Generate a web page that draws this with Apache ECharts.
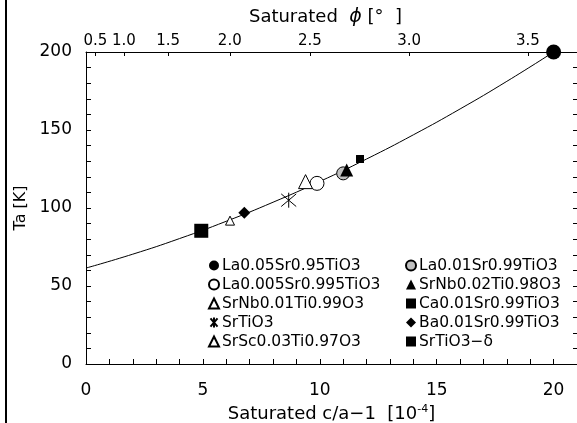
<!DOCTYPE html>
<html>
<head>
<meta charset="utf-8">
<script src="https://cdn.jsdelivr.net/npm/echarts@6/dist/echarts.min.js"></script>
<style>html,body{margin:0;padding:0;background:#fff}#c{width:577px;height:423px}</style>
</head>
<body>
<div id="c"></div>
<script>
// ---- data ----
const names = ['La0.05Sr0.95TiO3','La0.01Sr0.99TiO3','La0.005Sr0.995TiO3','SrNb0.02Ti0.98O3',
  'SrNb0.01Ti0.99O3','Ca0.01Sr0.99TiO3','SrTiO3','Ba0.01Sr0.99TiO3','SrSc0.03Ti0.97O3','SrTiO3−δ'];
const caValues = [20.0, 11.0, 9.88, 11.15, 9.39, 11.72, 8.67, 6.77, 6.16, 4.93];
const taValues = [200, 122.2, 115.8, 124.4, 116.9, 131.4, 105, 97, 91.9, 85.4];
const curveX = [0, 2, 4, 6, 8, 10, 12, 14, 16, 18, 20];
const curveY = [61.5, 70.4, 80.4, 91.5, 103.7, 117, 131.4, 146.9, 163.5, 181.2, 200];
const phiLabels = ['0.5','1.0','1.5','2.0','2.5','3.0','3.5'];
const phiPos = [0.40, 1.62, 3.51, 6.15, 9.58, 13.82, 18.9];
const xLabelValues = [0, 5, 10, 15, 20];
const xTickValues = [0,1,2,3,4,5,6,7,8,9,10,11,12,13,14,15,16,17,18,19,20,21];
const yTickValues = [0,10,20,30,40,50,60,70,80,90,100,110,120,130,140,150,160,170,180,190,200];

// ---- styles ----
const FONT = 'DejaVu Sans';
const asterisk = 'path://M5,0L5,10M1.5,0.8L8.5,9.2M1.5,9.2L8.5,0.8';
const styles = [
  {symbol:'circle', size:15, item:{color:'#000'}},
  {symbol:'circle', size:13, item:{color:'#c0c0c0', borderColor:'#000', borderWidth:1}},
  {symbol:'circle', size:14, item:{color:'#fff', borderColor:'#000', borderWidth:1}},
  {symbol:'triangle', size:13, item:{color:'#000'}},
  {symbol:'triangle', size:14, item:{color:'#fff', borderColor:'#000', borderWidth:1}},
  {symbol:'rect', size:8, item:{color:'#000'}},
  {symbol:asterisk, size:15, item:{color:'none', borderColor:'#000', borderWidth:1}},
  {symbol:'diamond', size:12, item:{color:'#000'}},
  {symbol:'triangle', size:9, item:{color:'#fff', borderColor:'#000', borderWidth:1}},
  {symbol:'rect', size:14, item:{color:'#000'}}
];

const series = [{
  type:'line', name:'fit', data: curveX.map((x,i)=>[x, curveY[i]]), smooth:true, showSymbol:false,
  lineStyle:{color:'#000', width:1}, silent:true, z:1
}];
names.forEach((n,i)=>{
  series.push({type:'scatter', name:n, data:[[caValues[i], taValues[i]]], symbol:styles[i].symbol,
    symbolSize:styles[i].size, itemStyle:Object.assign({opacity:1}, styles[i].item), z:2+i});
});

const legendCommon = {orient:'vertical', itemWidth:10, itemHeight:10, itemGap:0,
  textStyle:{fontFamily:FONT, fontSize:15.5, color:'#000', lineHeight:19, padding:[0,0,0,-2]},
  selectedMode:false};

const chart = echarts.init(document.getElementById('c'), null, {renderer:'canvas'});
chart.setOption({
  animation:false,
  textStyle:{fontFamily:FONT},
  grid:{left:86, right:0, top:52, bottom:59, containLabel:false, outerBoundsMode:'none'},
  xAxis:[{
    type:'value', min:0, max:21, position:'bottom',
    name:'Saturated c/a−1  [10{sup|-4}]', nameLocation:'middle', nameGap:35,
    nameTextStyle:{fontFamily:FONT, fontSize:18, color:'#000', rich:{sup:{fontSize:11, verticalAlign:'top', padding:[0,0,9,0]}}},
    axisLine:{onZero:false, lineStyle:{color:'#000', width:1}},
    axisTick:{inside:true, length:5, customValues:xTickValues, lineStyle:{color:'#000'}},
    axisLabel:{customValues:xLabelValues, margin:18, fontFamily:FONT, fontSize:17, color:'#000'},
    splitLine:{show:false}
  },{
    type:'value', min:0, max:21, position:'top',
    name:'Saturated  {i|ϕ} [°  ]', nameLocation:'middle', nameGap:25,
    nameTextStyle:{fontFamily:FONT, fontSize:18, color:'#000', padding:[0,12,0,0],
      rich:{i:{fontFamily:FONT, fontSize:19, fontStyle:'italic'}}},
    axisLine:{onZero:false, lineStyle:{color:'#000', width:1}},
    axisTick:{inside:true, length:4, customValues:phiPos, lineStyle:{color:'#000'}},
    axisLabel:{customValues:phiPos, margin:3, fontFamily:FONT, fontSize:15, color:'#000',
      formatter:(v)=>{ const k = phiPos.findIndex(p=>Math.abs(p-v)<1e-6); return k>=0 ? phiLabels[k] : ''; }},
    splitLine:{show:false}
  }],
  yAxis:[{
    type:'value', min:0, max:200, interval:50, position:'left',
    name:'Ta [K]', nameLocation:'middle', nameGap:52, nameRotate:90,
    nameTextStyle:{fontFamily:FONT, fontSize:16, color:'#000'},
    axisLine:{show:true, onZero:false, lineStyle:{color:'#000', width:1}},
    axisTick:{inside:true, length:5, customValues:yTickValues, lineStyle:{color:'#000'}},
    axisLabel:{margin:14, fontFamily:FONT, fontSize:17, color:'#000'},
    splitLine:{show:false}
  },{
    type:'value', min:0, max:200, interval:50, position:'right',
    axisLine:{show:false, onZero:false},
    axisTick:{show:true, inside:true, length:4, customValues:yTickValues, lineStyle:{color:'#000'}},
    axisLabel:{show:false},
    splitLine:{show:false}
  }],
  legend:[
    Object.assign({left:203, top:251, data:[names[0],names[2],names[4],names[6],names[8]]}, legendCommon),
    Object.assign({left:400, top:251, data:[names[1],names[3],names[5],names[7],names[9]]}, legendCommon)
  ],
  graphic:[{type:'line', shape:{x1:6, y1:0, x2:6, y2:423}, style:{stroke:'#000', lineWidth:2}, silent:true}],
  series: series
});
</script>
</body>
</html>
